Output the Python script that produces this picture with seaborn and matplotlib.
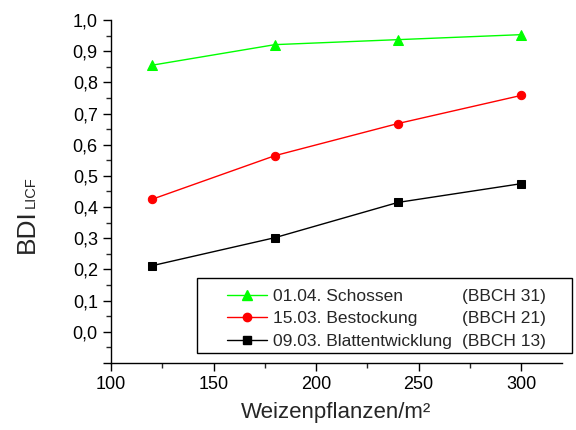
import numpy as np
import pandas as pd
import matplotlib
matplotlib.use("Agg")
import matplotlib.pyplot as plt
from matplotlib.ticker import MultipleLocator, FuncFormatter
from matplotlib.lines import Line2D
from matplotlib.patches import Rectangle
import seaborn as sns

sns.set_style("ticks")
plt.rcParams['font.family'] = ['Liberation Sans', 'DejaVu Sans']

plants = [120, 180, 240, 300]
schossen = [0.855, 0.921, 0.937, 0.953]
schossen_err = [0.010, 0.008, 0.008, 0.008]
bestockung = [0.425, 0.565, 0.668, 0.758]
bestockung_err = [0.012, 0.005, 0.005, 0.005]
blatt = [0.212, 0.302, 0.415, 0.475]
blatt_err = [0.004, 0.004, 0.004, 0.004]

labels = ["01.04. Schossen", "15.03. Bestockung", "09.03. Blattentwicklung"]
bbch = ["(BBCH 31)", "(BBCH 21)", "(BBCH 13)"]
colors = ["#00ff00", "#ff0000", "#000000"]
markers = ["^", "o", "s"]

W, H = 576, 430
fig = plt.figure(figsize=(W / 100, H / 100), dpi=100)
ax = fig.add_axes([111 / W, 1 - 363 / H, (562 - 111) / W, (363 - 20) / H])

series = [(schossen, schossen_err), (bestockung, bestockung_err), (blatt, blatt_err)]
handles = []
for (vals, err), lab, c, m in zip(series, labels, colors, markers):
    df = pd.DataFrame({"x": plants, "y": vals})
    ms = 6.5 if m == "^" else 6
    sns.lineplot(data=df, x="x", y="y", ax=ax, color=c, marker=m, markersize=ms,
                 markeredgecolor=c, linewidth=1.0, legend=False)
    ax.errorbar(plants, vals, yerr=err, fmt="none", ecolor=c, elinewidth=1.0, capsize=0)
    handles.append(Line2D([], [], color=c, marker=m, markersize=ms, markeredgecolor=c, linewidth=1.0))

ax.set_xlim(100, 320)
ax.set_ylim(-0.1, 1.0)
ax.xaxis.set_major_locator(MultipleLocator(50))
ax.xaxis.set_minor_locator(MultipleLocator(25))
ax.yaxis.set_major_locator(MultipleLocator(0.1))
ax.yaxis.set_minor_locator(MultipleLocator(0.05))
ax.yaxis.set_major_formatter(FuncFormatter(lambda v, p: ("%.1f" % v).replace(".", ",") if v > -0.05 else ""))
ax.tick_params(axis="both", which="major", direction="out", length=6, width=1.0, labelsize=13, colors="black")
ax.tick_params(axis="both", which="minor", direction="out", length=3.5, width=1.0)
for s in ["top", "right"]:
    ax.spines[s].set_visible(False)
for s in ["left", "bottom"]:
    ax.spines[s].set_linewidth(1.0)
    ax.spines[s].set_color("black")

ax.set_xlabel("Weizenpflanzen/m²", fontsize=16, labelpad=6)
ax.set_ylabel("")

# y label: BDI with subscript LICF
bdi = fig.text(34 / W, 1 - 253 / H, "BDI", rotation=90, rotation_mode="anchor",
               ha="left", va="baseline", fontsize=19)

# legend box
fig.patches.append(Rectangle((197 / W, 1 - 353 / H), 375 / W, 75 / H, transform=fig.transFigure,
                             facecolor="white", edgecolor="black", linewidth=1.0, zorder=3))
leg = fig.legend(handles, labels, loc="upper left", bbox_to_anchor=(227 / W, 1 - 288.5 / H),
                 bbox_transform=fig.transFigure, fontsize=12.5, frameon=False,
                 handlelength=2.3, handletextpad=0.35, labelspacing=0.43, borderpad=0,
                 borderaxespad=0)
leg.set_zorder(4)

fig.canvas.draw()
r = fig.canvas.get_renderer()
bb = bdi.get_window_extent(r)
fig.text(34.5 / W, (bb.y1 + 1) / H, "LICF", rotation=90, rotation_mode="anchor",
         ha="left", va="baseline", fontsize=10.5)
for t, txt in zip(leg.get_texts(), bbch):
    tb = t.get_window_extent(r)
    fig.text(462 / W, tb.y0 / H, txt, fontsize=12.5, va="bottom", ha="left", zorder=5)

fig.savefig("out.png", dpi=100)
